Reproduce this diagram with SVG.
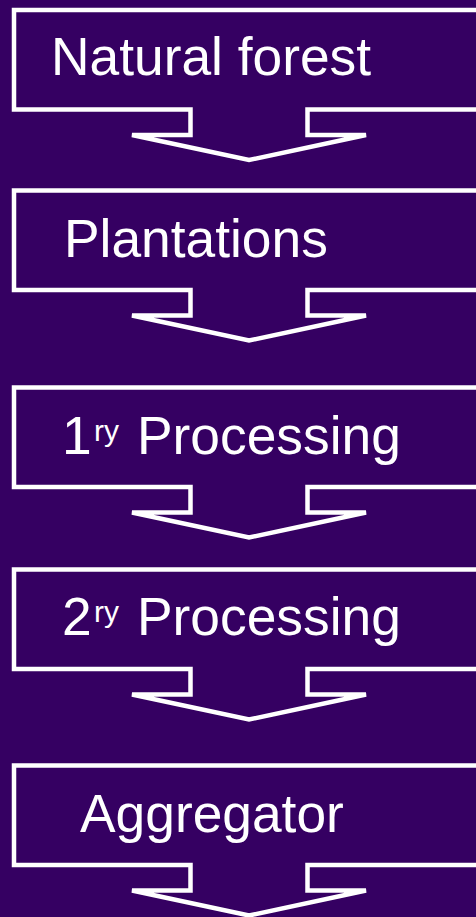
<svg xmlns="http://www.w3.org/2000/svg" xmlns:xlink="http://www.w3.org/1999/xlink" width="476" height="917" viewBox="0 0 476 917">
  <style>
    .shape { fill: #350062; stroke: #ffffff; stroke-width: 4.5; stroke-linejoin: miter; }
    .label { font-family: "Liberation Sans", Arial, sans-serif; font-size: 53.33px; fill: #ffffff; }
    .sup { font-size: 30px; }
  </style>
  <defs>
    <path id="callout" d="M14,0 H490 V99.5 H307.5 V125 H366 L249,150 L132,125 H190.5 V99.5 H14 Z"/>
  </defs>
  <rect x="0" y="0" width="476" height="917" fill="#350062"/>
  <g id="connectors"/>
  <g id="node-natural-forest">
    <use xlink:href="#callout" href="#callout" class="shape" transform="translate(0,10)"/>
    <text class="label" x="51" y="75">Natural forest</text>
  </g>
  <g id="node-plantations">
    <use xlink:href="#callout" href="#callout" class="shape" transform="translate(0,190.5)"/>
    <text class="label" x="64" y="257">Plantations</text>
  </g>
  <g id="node-primary-processing">
    <use xlink:href="#callout" href="#callout" class="shape" transform="translate(0,387.5)"/>
    <text class="label" x="62" y="454">1<tspan class="sup" x="94" y="441">ry</tspan><tspan x="137" y="454">Processing</tspan></text>
  </g>
  <g id="node-secondary-processing">
    <use xlink:href="#callout" href="#callout" class="shape" transform="translate(0,569.5)"/>
    <text class="label" x="62" y="635">2<tspan class="sup" x="94" y="622">ry</tspan><tspan x="137" y="635">Processing</tspan></text>
  </g>
  <g id="node-aggregator">
    <use xlink:href="#callout" href="#callout" class="shape" transform="translate(0,765.5)"/>
    <text class="label" x="80" y="832">Aggregator</text>
  </g>
</svg>
